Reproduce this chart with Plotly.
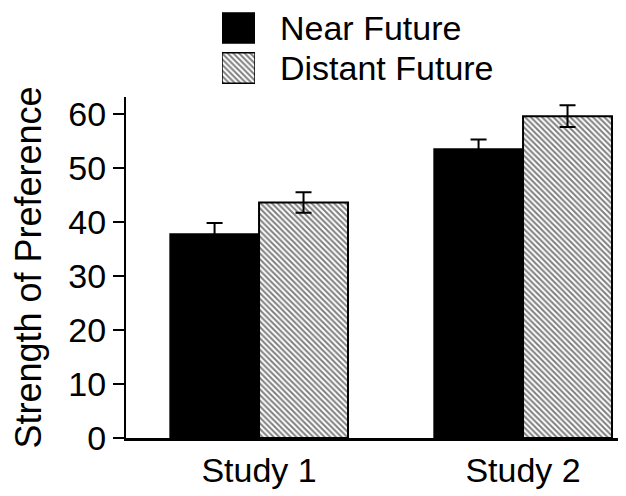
import plotly.graph_objects as go

categories = ["Study 1", "Study 2"]
near_values = [37.8, 53.5]
near_errors = [2.0, 1.8]
distant_values = [43.6, 59.6]
distant_errors = [1.9, 2.0]
series_names = ["Near Future", "Distant Future"]
y_ticks = [0, 10, 20, 30, 40, 50, 60]

# the page puts the figure 8px in from the window's top-left corner
W, H = 618, 488
L, R, T, B = 118, 0, 0, 58
PW, PH = W - L - R, H - T - B
FONT = "Liberation Sans, Arial, sans-serif"
FS = 34

def px_x(p):
    return (p - L) / PW

def px_y(p):
    return 1 - (p - T) / PH

HATCH = dict(shape="\\", fgcolor="black", bgcolor="white", size=4, solidity=0.5)

fig = go.Figure()
fig.add_trace(go.Bar(
    x=categories, y=near_values, name=series_names[0],
    marker=dict(color="black", line=dict(color="black", width=1.5)),
    error_y=dict(type="data", array=near_errors, color="black", thickness=2, width=8),
    showlegend=False,
))
fig.add_trace(go.Bar(
    x=categories, y=distant_values, name=series_names[1],
    marker=dict(color="white", line=dict(color="black", width=2), pattern=HATCH),
    error_y=dict(type="data", array=distant_errors, color="black", thickness=2, width=8),
    showlegend=False,
))

# legend swatches on an auxiliary axis
fig.add_trace(go.Bar(
    x=[1], y=[series_names[0]], orientation="h", xaxis="x2", yaxis="y2",
    marker=dict(color="black", line=dict(color="black", width=1)), showlegend=False, width=0.76,
))
fig.add_trace(go.Bar(
    x=[1], y=[series_names[1]], orientation="h", xaxis="x2", yaxis="y2",
    marker=dict(color="white", line=dict(color="black", width=1.5), pattern=HATCH),
    showlegend=False, width=0.76,
))

for name, yc in zip(series_names, [20, 60]):
    fig.add_annotation(
        x=px_x(270), y=px_y(yc), xref="paper", yref="paper", text=name, showarrow=False,
        xanchor="left", yanchor="middle", font=dict(family=FONT, size=FS, color="black"),
    )

fig.update_layout(
    width=W, height=H,
    margin=dict(l=L, r=R, t=T, b=B, pad=0),
    paper_bgcolor="white", plot_bgcolor="white",
    barmode="group", bargap=0.326, bargroupgap=0,
    font=dict(family=FONT, size=FS, color="black"),
    xaxis=dict(
        domain=[0, 1], range=[-0.504, 1.39], showline=True, linecolor="black", linewidth=3,
        ticks="", showgrid=False, zeroline=False, automargin=False,
        tickfont=dict(family=FONT, size=FS),
    ),
    yaxis=dict(
        domain=[0, px_y(89)], range=[0, 63.15], tickvals=y_ticks,
        showline=True, linecolor="black", linewidth=2,
        ticks="outside", ticklen=11, tickwidth=1.5, tickcolor="black",
        showgrid=False, zeroline=False, automargin=False,
        title=dict(text="Strength of Preference", font=dict(family=FONT, size=36), standoff=18),
        tickfont=dict(family=FONT, size=FS),
    ),
    xaxis2=dict(domain=[px_x(214), px_x(247)], range=[0, 1], visible=False, anchor="y2"),
    yaxis2=dict(domain=[px_y(80), 1], visible=False, anchor="x2",
                categoryorder="array", categoryarray=[series_names[1], series_names[0]]),
)

fig.write_html("out.html")
